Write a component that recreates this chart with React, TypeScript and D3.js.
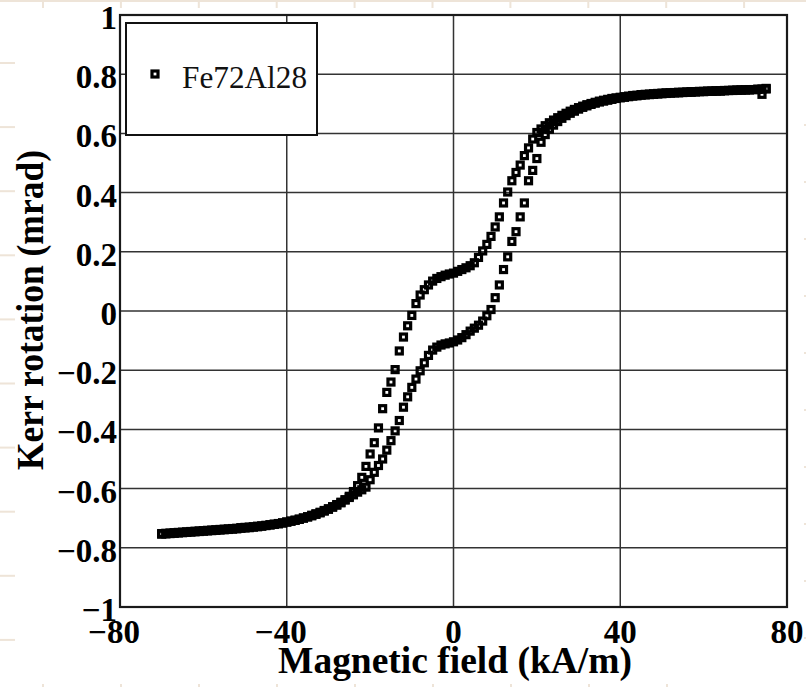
import React from 'react';
import * as d3 from 'd3';

const fieldTicks = [-80, -40, 0, 40, 80];
const kerrTicks = [-1, -0.8, -0.6, -0.4, -0.2, 0, 0.2, 0.4, 0.6, 0.8, 1];
const seriesName = 'Fe72Al28';
const xTitle = 'Magnetic field (kA/m)';
const yTitle = 'Kerr rotation (mrad)';

// Descending-field branch: [field (kA/m), Kerr rotation (mrad)]
const descendingBranch: [number, number][] = [
  [75, 0.750], [74, 0.732], [73, 0.749], [72, 0.748], [71, 0.748], [70, 0.747], [69, 0.747], [68, 0.746],
  [67, 0.746], [66, 0.745], [65, 0.745], [64, 0.744], [63, 0.744], [62, 0.743], [61, 0.743], [60, 0.742],
  [59, 0.742], [58, 0.741], [57, 0.741], [56, 0.740], [55, 0.739], [54, 0.739], [53, 0.738], [52, 0.737],
  [51, 0.737], [50, 0.736], [49, 0.735], [48, 0.734], [47, 0.733], [46, 0.732], [45, 0.731], [44, 0.729],
  [43, 0.728], [42, 0.726], [41, 0.724], [40, 0.722], [39, 0.720], [38, 0.718], [37, 0.715], [36, 0.712],
  [35, 0.709], [34, 0.705], [33, 0.701], [32, 0.697], [31, 0.692], [30, 0.687], [29, 0.681], [28, 0.675],
  [27, 0.668], [26, 0.661], [25, 0.653], [24, 0.645], [23, 0.636], [22, 0.626], [21, 0.615], [20, 0.603],
  [19, 0.581], [18, 0.551], [17, 0.525], [16, 0.493], [15, 0.468], [14, 0.440], [13, 0.402], [12, 0.365],
  [11, 0.318], [10, 0.284], [9, 0.252], [8, 0.225], [7, 0.203], [6, 0.181], [5, 0.163], [4, 0.153],
  [3, 0.146], [2, 0.140], [1, 0.134], [0, 0.128], [-1, 0.125], [-2, 0.121], [-3, 0.116], [-4, 0.110],
  [-5, 0.101], [-6, 0.088], [-7, 0.072], [-8, 0.054], [-9, 0.025], [-10, -0.015], [-11, -0.050], [-12, -0.088],
  [-13, -0.135], [-14, -0.198], [-15, -0.240], [-16, -0.275], [-17, -0.330], [-18, -0.395], [-19, -0.445], [-20, -0.483],
  [-21, -0.525], [-22, -0.562], [-23, -0.590], [-24, -0.610], [-25, -0.626], [-26, -0.638], [-27, -0.648], [-28, -0.656],
  [-29, -0.663], [-30, -0.670], [-31, -0.676], [-32, -0.682], [-33, -0.687], [-34, -0.692], [-35, -0.696], [-36, -0.700],
  [-37, -0.704], [-38, -0.707], [-39, -0.710], [-40, -0.713], [-41, -0.716], [-42, -0.718], [-43, -0.720], [-44, -0.722],
  [-45, -0.724], [-46, -0.726], [-47, -0.727], [-48, -0.729], [-49, -0.730], [-50, -0.731], [-51, -0.732], [-52, -0.734],
  [-53, -0.735], [-54, -0.736], [-55, -0.737], [-56, -0.738], [-57, -0.739], [-58, -0.740], [-59, -0.741], [-60, -0.742],
  [-61, -0.743], [-62, -0.744], [-63, -0.745], [-64, -0.746], [-65, -0.747], [-66, -0.748], [-67, -0.749], [-68, -0.750],
  [-69, -0.751], [-70, -0.752],
];

// Ascending-field branch: [field (kA/m), Kerr rotation (mrad)]
const ascendingBranch: [number, number][] = [
  [-70, -0.754], [-69, -0.753], [-68, -0.752], [-67, -0.751], [-66, -0.750], [-65, -0.749], [-64, -0.748], [-63, -0.747],
  [-62, -0.746], [-61, -0.745], [-60, -0.744], [-59, -0.743], [-58, -0.742], [-57, -0.741], [-56, -0.740], [-55, -0.739],
  [-54, -0.738], [-53, -0.737], [-52, -0.736], [-51, -0.734], [-50, -0.733], [-49, -0.732], [-48, -0.730], [-47, -0.729],
  [-46, -0.727], [-45, -0.725], [-44, -0.723], [-43, -0.721], [-42, -0.719], [-41, -0.716], [-40, -0.713], [-39, -0.710],
  [-38, -0.707], [-37, -0.703], [-36, -0.699], [-35, -0.695], [-34, -0.690], [-33, -0.685], [-32, -0.680], [-31, -0.674],
  [-30, -0.668], [-29, -0.661], [-28, -0.654], [-27, -0.646], [-26, -0.638], [-25, -0.630], [-24, -0.621], [-23, -0.612],
  [-22, -0.604], [-21, -0.595], [-20, -0.570], [-19, -0.545], [-18, -0.522], [-17, -0.500], [-16, -0.470], [-15, -0.438],
  [-14, -0.405], [-13, -0.370], [-12, -0.325], [-11, -0.290], [-10, -0.258], [-9, -0.230], [-8, -0.202], [-7, -0.175],
  [-6, -0.150], [-5, -0.132], [-4, -0.122], [-3, -0.115], [-2, -0.111], [-1, -0.108], [0, -0.104], [1, -0.098],
  [2, -0.090], [3, -0.080], [4, -0.068], [5, -0.058], [6, -0.048], [7, -0.034], [8, -0.016], [9, 0.005],
  [10, 0.045], [11, 0.088], [12, 0.140], [13, 0.183], [14, 0.235], [15, 0.268], [16, 0.318], [17, 0.365],
  [18, 0.440], [19, 0.475], [20, 0.515], [21, 0.570], [22, 0.596], [23, 0.614], [24, 0.628], [25, 0.640],
  [26, 0.651], [27, 0.660], [28, 0.668], [29, 0.675], [30, 0.682], [31, 0.688], [32, 0.693], [33, 0.698],
  [34, 0.702], [35, 0.706], [36, 0.709], [37, 0.712], [38, 0.715], [39, 0.718], [40, 0.720], [41, 0.722],
  [42, 0.724], [43, 0.726], [44, 0.727], [45, 0.729], [46, 0.730], [47, 0.731], [48, 0.732], [49, 0.733],
  [50, 0.734], [51, 0.735], [52, 0.736], [53, 0.737], [54, 0.737], [55, 0.738], [56, 0.739], [57, 0.739],
  [58, 0.740], [59, 0.741], [60, 0.741], [61, 0.742], [62, 0.742], [63, 0.743], [64, 0.743], [65, 0.744],
  [66, 0.745], [67, 0.745], [68, 0.746], [69, 0.746], [70, 0.747], [71, 0.747], [72, 0.748], [73, 0.749],
  [74, 0.750], [75, 0.752],
];

const W = 806;
const H = 687;
const plot = { left: 120, right: 787, top: 15, bottom: 607 };
const SERIF = '"Liberation Serif", "DejaVu Serif", "Times New Roman", serif';

const fmt = (v: number) => (v < 0 ? '\u2212' : '') + String(Math.abs(v));

export default function App() {
  const x = d3.scaleLinear().domain([-80, 80]).range([plot.left, plot.right]);
  const y = d3.scaleLinear().domain([-1, 1]).range([plot.bottom, plot.top]);
  const points = [...ascendingBranch, ...descendingBranch];
  const ms = 6;
  const mw = 3.2;
  const decoTan = '#eee4d8';

  return (
    <svg
      width={W}
      height={H}
      viewBox={`0 0 ${W} ${H}`}
      style={{ position: 'absolute', left: 0, top: 0, background: '#fff' }}
    >
      <rect x={0} y={0} width={W} height={H} fill="#fff" />
      {/* faint background pattern */}
      <rect x={0} y={0} width={W} height={2} fill={decoTan} />
      {d3.range(43, W, 77.9).map((px, i) => (
        <rect key={'t' + i} x={px - 1} y={0} width={2} height={8} fill={decoTan} />
      ))}
      {d3.range(63, 660, 64.1).map((py, i) => (
        <rect key={'l' + i} x={0} y={py - 1} width={15} height={2} fill={decoTan} />
      ))}
      {d3.range(43, 700, 78).map((px, i) => (
        <rect key={'b' + i} x={px - 1} y={684} width={2} height={3} fill={decoTan} />
      ))}
      {d3.range(125, 680, 57).map((py, i) => (
        <rect key={'r' + i} x={804} y={py - 1} width={2} height={2} fill={decoTan} />
      ))}

      {/* grid */}
      <g stroke="#333" strokeWidth={1.5}>
        {kerrTicks
          .filter((t) => t > -1 && t < 1)
          .map((t) => (
            <line key={'gy' + t} x1={plot.left} x2={plot.right} y1={y(t)} y2={y(t)} />
          ))}
        {fieldTicks
          .filter((t) => t > -80 && t < 80)
          .map((t) => (
            <line key={'gx' + t} x1={x(t)} x2={x(t)} y1={plot.top} y2={plot.bottom} />
          ))}
      </g>

      {/* data markers */}
      <g fill="none" stroke="#000" strokeWidth={mw}>
        {points.map(([h, k], i) => (
          <rect key={i} x={x(h) - ms / 2} y={y(k) - ms / 2} width={ms} height={ms} />
        ))}
      </g>

      {/* frame */}
      <rect
        x={plot.left}
        y={plot.top}
        width={plot.right - plot.left}
        height={plot.bottom - plot.top}
        fill="none"
        stroke="#1a1a1a"
        strokeWidth={2.2}
      />

      {/* legend */}
      <rect x={126} y={23} width={191} height={112} fill="#fff" stroke="#111" strokeWidth={2} />
      <rect x={155 - ms / 2} y={74 - ms / 2} width={ms} height={ms} fill="none" stroke="#000" strokeWidth={mw} />
      <text x={182} y={88} fontFamily={SERIF} fontSize={31} fill="#111" textLength={125} lengthAdjust="spacingAndGlyphs">
        {seriesName}
      </text>

      {/* y tick labels */}
      <g fontFamily={SERIF} fontWeight="bold" fontSize={33} fill="#000" textAnchor="end">
        {kerrTicks.map((t) => (
          <text key={'yl' + t} x={117} y={y(t) + 14}>
            {fmt(t)}
          </text>
        ))}
      </g>

      {/* x tick labels */}
      <g fontFamily={SERIF} fontWeight="bold" fontSize={33} fill="#000" textAnchor="middle">
        {fieldTicks.map((t) => (
          <text key={'xl' + t} x={x(t) - (t < 0 ? 6 : 0)} y={643}>
            {fmt(t)}
          </text>
        ))}
      </g>

      {/* axis titles */}
      <text
        x={455}
        y={673}
        fontFamily={SERIF}
        fontWeight="bold"
        fontSize={37}
        textAnchor="middle"
        textLength={354}
        lengthAdjust="spacingAndGlyphs"
        fill="#000"
      >
        {xTitle}
      </text>
      <text
        transform="translate(43,310) rotate(-90)"
        fontFamily={SERIF}
        fontWeight="bold"
        fontSize={37}
        textAnchor="middle"
        textLength={320}
        lengthAdjust="spacingAndGlyphs"
        fill="#000"
      >
        {yTitle}
      </text>
    </svg>
  );
}
